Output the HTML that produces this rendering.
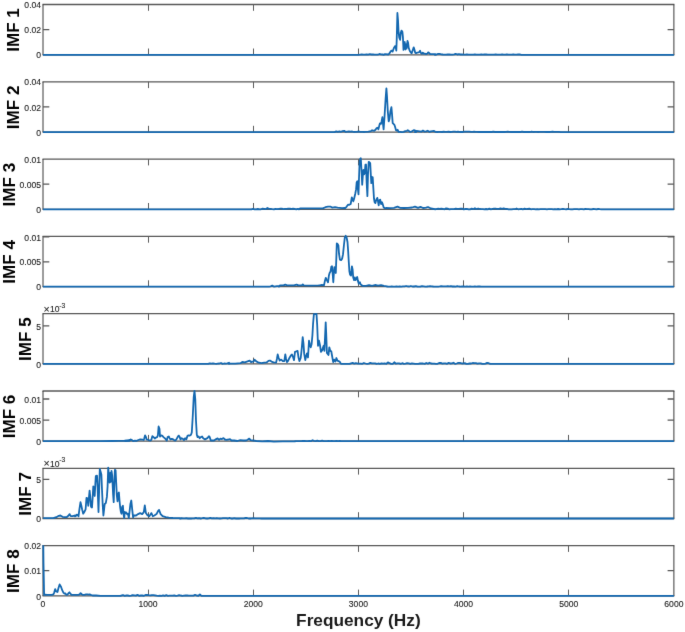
<!DOCTYPE html><html><head><meta charset="utf-8"><style>html,body{margin:0;padding:0;background:#fff;}svg{display:block;will-change:transform;}text{font-family:"Liberation Sans",sans-serif;}.tk{stroke:#1a1a1a;stroke-width:0.1px;paint-order:stroke;}</style></head><body>
<svg width="685" height="632" viewBox="0 0 685 632">
<defs><filter id="soft" x="0" y="0" width="685" height="632" filterUnits="userSpaceOnUse" color-interpolation-filters="sRGB"><feConvolveMatrix order="3" kernelMatrix="0.0052 0.0619 0.0052 0.0619 0.7314 0.0619 0.0052 0.0619 0.0052" edgeMode="duplicate" preserveAlpha="true"/></filter></defs>
<g filter="url(#soft)">
<rect width="685" height="632" fill="#fff"/>
<g><path d="M42.5 4.5 H674.4 M42.5 54.8 H674.4" fill="none" stroke="#585858" stroke-width="1.3"/><path d="M43 4.5 V54.8 M673.9 4.5 V54.8" fill="none" stroke="#383838" stroke-width="1"/><path d="M148.5 4.5 V10.8 M148.5 54.8 V48.5 M253.5 4.5 V10.8 M253.5 54.8 V48.5 M358.5 4.5 V10.8 M358.5 54.8 V48.5 M463.5 4.5 V10.8 M463.5 54.8 V48.5 M568.5 4.5 V10.8 M568.5 54.8 V48.5" fill="none" stroke="#5e5e5e" stroke-width="1"/><path d="M43 29.6 H49.3 M673.9 29.6 H667.6" fill="none" stroke="#585858" stroke-width="1.3"/><path d="M43 54.8 L358.6 54.8 L360.2 54.6 L361.8 54.5 L363.4 54.6 L365 54.6 L366.6 54.3 L368.2 54.6 L369.8 54.2 L371.4 54.5 L373 54.3 L374.6 54.6 L376.2 54.6 L377.8 54.7 L379.4 54 L381 54.3 L382.6 54.5 L384 54.8 L385 54.1 L388.4 54.5 L389.6 53.2 L390.9 51 L391.7 50.7 L392.6 51.6 L393.4 49.3 L394.2 47.4 L395.1 46.1 L395.7 46.9 L396.3 50.7 L396.7 40.2 L397.4 13 L398 20.1 L398.6 32.7 L399.3 37.7 L400.1 39.8 L400.8 32.7 L401.5 30.6 L402.4 31.8 L402.9 36.9 L403.5 49.9 L404.1 42.8 L404.7 41.9 L405.4 49.5 L406 44.4 L406.6 48.6 L407.5 40.9 L408.1 42.8 L408.7 47.8 L409.7 50.7 L411 52.8 L411.7 53.2 L412.7 50.3 L413.7 47.4 L414.4 49.5 L415.2 52.7 L416 53.2 L417.3 52.7 L418.4 52.4 L419.4 52 L420.1 50.7 L420.7 52.8 L421.9 53.7 L422.8 52.7 L423.6 53.5 L424.8 53.7 L426.1 54.1 L427.4 53.5 L428.2 52.4 L429 52.8 L430.3 54.1 L432 54.1 L435 54.1 L436 54.8 L434.9 54.8 L436.5 54.5 L438.1 53.9 L439.7 53.9 L441.3 54.3 L442.9 54.5 L444.5 54.6 L446.1 54.7 L447.7 54.5 L449.3 54.4 L450.9 54.6 L452.5 54.6 L454.1 54.4 L455.7 53.9 L457.3 54.5 L458.9 54.2 L460.5 54.5 L462.1 54.4 L463.7 54.6 L465.3 54.7 L466.9 54.4 L468.5 54.6 L470.1 54.7 L471.7 54.6 L473.3 54.7 L474.9 54.5 L476.5 54.6 L478.1 54.7 L479.7 54.7 L481.3 54.5 L482.9 54.7 L484.5 54.5 L486.1 54.4 L487.7 54.7 L489.3 54.7 L490.9 54.6 L492.5 54.7 L494.1 54.7 L495.7 54.5 L497.3 54.6 L498.9 54.6 L500.5 54.6 L502.1 54.5 L503.7 54.7 L505.3 54.7 L506.9 54.5 L508.5 54.6 L510.1 54.6 L511.7 54.7 L513.3 54.5 L514.9 54.6 L516.5 54.6 L518.1 54.5 L519.7 54.4 L521.3 54.8 L673.9 54.8" fill="none" stroke="#1468b0" stroke-width="1.8" stroke-linejoin="round"/><text class="tk" x="41.1" y="58.4" font-size="8.6" fill="#1a1a1a" text-anchor="end">0</text><text class="tk" x="41.1" y="33.2" font-size="8.6" fill="#1a1a1a" text-anchor="end">0.02</text><text class="tk" x="41.1" y="8.1" font-size="8.6" fill="#1a1a1a" text-anchor="end">0.04</text><text transform="translate(18.9 30) rotate(-90) scale(1.03 1)" font-size="16.6" font-weight="bold" fill="#000" text-anchor="middle">IMF 1</text></g>
<g><path d="M42.5 81.8 H674.4 M42.5 132.1 H674.4" fill="none" stroke="#585858" stroke-width="1.3"/><path d="M43 81.8 V132.1 M673.9 81.8 V132.1" fill="none" stroke="#383838" stroke-width="1"/><path d="M148.5 81.8 V88.1 M148.5 132.1 V125.8 M253.5 81.8 V88.1 M253.5 132.1 V125.8 M358.5 81.8 V88.1 M358.5 132.1 V125.8 M463.5 81.8 V88.1 M463.5 132.1 V125.8 M568.5 81.8 V88.1 M568.5 132.1 V125.8" fill="none" stroke="#5e5e5e" stroke-width="1"/><path d="M43 106.9 H49.3 M673.9 106.9 H667.6" fill="none" stroke="#585858" stroke-width="1.3"/><path d="M43 132.1 L334.6 132.1 L336.2 131.4 L337.8 131.9 L339.4 131.4 L341 131.8 L342.6 131.1 L344.2 130.8 L345.8 131.9 L347.4 131.7 L349 131.5 L350.6 131.6 L352.2 131.5 L353.8 132 L355.4 131.9 L357 131.8 L358.6 131.3 L360.2 131.8 L361.8 131.8 L363.4 131.8 L364 132.1 L365 131.9 L368.4 131.7 L370.9 131.1 L372.1 130.2 L373 130.7 L374.2 130.8 L375.5 129.8 L376.7 128.1 L377.6 127.7 L378.4 129.4 L379.3 125.6 L379.9 123.5 L380.9 123.9 L381.6 121.4 L382.4 117.2 L383 123.9 L383.6 129.4 L384.5 117.2 L385.6 98.8 L386.4 88.3 L387 96.3 L387.8 111.4 L388.7 121.4 L389.5 118.9 L390.4 111.4 L391.4 107.2 L392 113.9 L392.7 123.1 L393.5 123.9 L394.4 124.8 L395.2 127.3 L396 130.2 L396.9 130.7 L397.7 129.8 L398.6 131.9 L400.2 131.9 L401.9 132.2 L403.6 131.9 L405.3 131.1 L406.9 130.8 L407.8 130.2 L409 131.1 L410.3 131.9 L411.6 131.5 L412.8 130.7 L413.7 130.2 L415 130.5 L416 132.1 L414.9 132.1 L416.5 130.9 L418.1 131.1 L419.7 131.4 L421.3 131.7 L422.9 130.6 L424.5 131.6 L426.1 131.4 L427.7 130.7 L429.3 131.9 L430.9 131.3 L432.5 131.1 L434.1 130.9 L435.7 131.9 L437.3 132 L438.9 131.9 L440.5 131.8 L442.1 132 L443.7 131.7 L445.3 131.8 L446.9 131.9 L448.5 131.7 L450.1 132 L451.7 131.8 L453.3 131.7 L454.9 131.6 L456.5 131.9 L458.1 131.6 L459.7 132 L461.3 132 L462.9 132 L464.5 131.6 L466.1 131.7 L467.7 131.6 L469.3 131.6 L470.9 131.8 L472.5 131.8 L474.1 131.7 L475.7 131.8 L477.3 131.9 L478.9 132 L480.5 132 L482.1 132 L483.7 132 L485.3 132 L486.9 132 L488.5 132 L490.1 131.9 L491.7 132 L493.3 131.7 L494.9 132 L496.5 132 L498.1 132 L499.7 132 L501.3 131.9 L502.9 132 L504.5 132 L506.1 131.8 L507.7 131.6 L509.3 131.9 L510.9 132 L512.5 132 L514.1 132 L515.7 132 L517.3 131.9 L518.9 132 L520.5 132 L522.1 131.7 L523.7 132 L525.3 132 L526.9 132 L528.5 132 L530.1 132 L531.7 131.6 L533.3 132 L534.9 131.9 L536.5 131.9 L538.1 132 L539.7 131.9 L541.3 131.9 L542.9 131.8 L544.5 131.8 L546.1 132 L547.7 132 L549.3 132 L550.9 131.9 L552.5 131.6 L554.1 131.9 L555.7 131.8 L557.3 131.9 L558.9 131.8 L560.5 132.1 L673.9 132.1" fill="none" stroke="#1468b0" stroke-width="1.8" stroke-linejoin="round"/><text class="tk" x="41.1" y="135.7" font-size="8.6" fill="#1a1a1a" text-anchor="end">0</text><text class="tk" x="41.1" y="110.5" font-size="8.6" fill="#1a1a1a" text-anchor="end">0.02</text><text class="tk" x="41.1" y="85.4" font-size="8.6" fill="#1a1a1a" text-anchor="end">0.04</text><text transform="translate(18.9 107.3) rotate(-90) scale(1.03 1)" font-size="16.6" font-weight="bold" fill="#000" text-anchor="middle">IMF 2</text></g>
<g><path d="M42.5 159.1 H674.4 M42.5 209.3 H674.4" fill="none" stroke="#585858" stroke-width="1.3"/><path d="M43 159.1 V209.3 M673.9 159.1 V209.3" fill="none" stroke="#383838" stroke-width="1"/><path d="M148.5 159.1 V165.4 M148.5 209.3 V203 M253.5 159.1 V165.4 M253.5 209.3 V203 M358.5 159.1 V165.4 M358.5 209.3 V203 M463.5 159.1 V165.4 M463.5 209.3 V203 M568.5 159.1 V165.4 M568.5 209.3 V203" fill="none" stroke="#5e5e5e" stroke-width="1"/><path d="M43 184.2 H49.3 M673.9 184.2 H667.6" fill="none" stroke="#585858" stroke-width="1.3"/><path d="M43 209.3 L249.8 209.3 L251.4 209.3 L253 208.8 L254.6 209.3 L256.2 209.3 L257.8 209 L259.4 209.3 L261 209.3 L262.6 208.6 L264.2 208.8 L265.8 209.2 L267.4 208 L269 208.8 L270.6 208.9 L272.2 209.2 L273.8 209.3 L275.4 209 L277 209.2 L278.6 209 L280.2 208.6 L281.8 208.6 L283.4 209.1 L285 208.9 L286.6 208.9 L288.2 208.6 L289.8 208.7 L291.4 209 L293 208.6 L294.6 208.9 L296.2 209.3 L297.8 208.8 L299 209.3 L300 208.4 L322.8 208.4 L325.4 207.2 L328 206.7 L330.7 206.7 L332.4 207.6 L335 207.2 L337.7 207.6 L342 208.1 L344.7 207.9 L345 208.3 L346.7 206.6 L348 204.7 L349.3 204.8 L350.7 204 L351.8 197.4 L352.7 199.6 L353.3 201.3 L354.1 198.7 L355.3 193.5 L356.1 189.2 L356.7 182.2 L357.3 181.3 L358 190 L358.5 194.4 L358.9 181.3 L359.6 162.2 L360.2 158.7 L360.8 158.3 L361.5 170 L362.2 184.8 L362.8 176.1 L363.4 170 L364.1 174.4 L364.8 172.7 L365.4 164.8 L366 164.4 L366.7 183.1 L367.4 196.1 L368 174.4 L368.7 161.8 L369.3 162.2 L370.2 163.1 L370.8 174.4 L371.3 183.1 L372 177 L372.7 177.4 L373.3 187.4 L374 198.7 L374.6 202.2 L375.4 203.1 L376.3 199.6 L377.3 197.9 L378 201.3 L378.7 205.3 L379.3 200.5 L380.2 199.6 L381.1 204 L382 202.2 L382.8 204.4 L383.7 207.4 L385 208.3 L386 208 L390 208.2 L394 207.8 L397.5 206.6 L400 207.8 L404 208 L408 207.8 L412 207.5 L415 206.6 L418 207.8 L420.5 206.8 L423 208 L426 207.6 L428 207 L431 208.5 L435 209.2 L436 209.3 L434.9 209.3 L436.5 209 L438.1 208.6 L439.7 208.9 L441.3 208.6 L442.9 208.9 L444.5 209.3 L446.1 208.4 L447.7 208.7 L449.3 209.3 L450.9 209.1 L452.5 209.2 L454.1 209.2 L455.7 208.6 L457.3 208.9 L458.9 208.8 L460.5 208.6 L462.1 208.7 L463.7 209.3 L465.3 209 L466.9 208.9 L468.5 209.3 L470.1 209.3 L471.7 208.7 L473.3 209.2 L474.9 208.2 L476.5 209.2 L478.1 208.5 L479.7 209 L481.3 209.2 L482.9 209.1 L484.5 209.3 L486.1 209 L487.7 209.3 L489.3 208.7 L490.9 209.3 L492.5 208.9 L494.1 208.6 L495.7 208.6 L497.3 209 L498.9 208.9 L500.5 208.4 L502.1 208.8 L503.7 208.4 L505.3 208.8 L506.9 208.8 L508.5 209.3 L510.1 209.3 L511.7 209.3 L513.3 209.1 L514.9 209.2 L516.5 208.5 L518.1 209.3 L519.7 209.1 L521.3 208.9 L522.9 209.3 L524.5 208.7 L526.1 209.1 L527.7 208.8 L529.3 208.6 L530.9 209.3 L532.5 209.2 L534.1 209.2 L535.7 209.3 L537.3 209.2 L538.9 209.3 L540.5 209.2 L542.1 209.1 L543.7 209.2 L545.3 209.2 L546.9 209.3 L548.5 209.2 L550.1 209.2 L551.7 209.1 L553.3 209.3 L554.9 209.2 L556.5 209.3 L558.1 209 L559.7 209.3 L561.3 209.2 L562.9 209 L564.5 209.2 L566.1 209.3 L567.7 209 L569.3 209.2 L570.9 209.3 L572.5 209.3 L574.1 209.2 L575.7 209.2 L577.3 209.2 L578.9 209.3 L580.5 209.1 L582.1 209.2 L583.7 209.3 L585.3 209 L586.9 209.2 L588.5 209.1 L590.1 209.3 L591.7 209.3 L593.3 209 L594.9 209.1 L596.5 209.3 L598.1 209 L599.7 209.2 L601.3 209.3 L673.9 209.3" fill="none" stroke="#1468b0" stroke-width="1.8" stroke-linejoin="round"/><text class="tk" x="41.1" y="212.9" font-size="8.6" fill="#1a1a1a" text-anchor="end">0</text><text class="tk" x="41.1" y="187.8" font-size="8.6" fill="#1a1a1a" text-anchor="end">0.005</text><text class="tk" x="41.1" y="162.7" font-size="8.6" fill="#1a1a1a" text-anchor="end">0.01</text><text transform="translate(14.8 184.6) rotate(-90) scale(1.03 1)" font-size="16.6" font-weight="bold" fill="#000" text-anchor="middle">IMF 3</text></g>
<g><path d="M42.5 236.4 H674.4 M42.5 286.6 H674.4" fill="none" stroke="#585858" stroke-width="1.3"/><path d="M43 236.4 V286.6 M673.9 236.4 V286.6" fill="none" stroke="#383838" stroke-width="1"/><path d="M148.5 236.4 V242.7 M148.5 286.6 V280.3 M253.5 236.4 V242.7 M253.5 286.6 V280.3 M358.5 236.4 V242.7 M358.5 286.6 V280.3 M463.5 236.4 V242.7 M463.5 286.6 V280.3 M568.5 236.4 V242.7 M568.5 286.6 V280.3" fill="none" stroke="#5e5e5e" stroke-width="1"/><path d="M43 261.8 H49.3 M673.9 261.8 H667.6 M43 236.9 H49.3 M673.9 236.9 H667.6" fill="none" stroke="#585858" stroke-width="1.3"/><path d="M43 286.6 L269 286.6 L270.6 286.3 L272.2 285.6 L273.8 286.6 L275.4 286.3 L277 286.1 L278.6 286.1 L279 286.6 L280 285.4 L283.5 285.4 L285.3 284.6 L287 285.4 L294 285.4 L296.6 284.6 L298.4 285.4 L301.9 285.4 L302.8 284.4 L303.7 285.4 L311.5 285.6 L318.5 285.4 L319.9 285.3 L320 285.4 L321.8 284.9 L324 285.4 L324.9 280.9 L325.8 277.8 L326.6 279.6 L328 282.3 L328.9 275.6 L329.6 273 L330.5 271.6 L331.3 266.8 L332 266.3 L332.6 273 L333.3 282.3 L333.9 273 L334.4 267.2 L335.1 271.2 L335.8 273 L336.4 256.1 L336.8 243.3 L337.7 244.2 L338.4 245.5 L339 253.5 L339.9 259.7 L341.1 260.1 L342.1 258.8 L343 254.4 L343.9 245.5 L344.8 237.5 L345.7 235.8 L346.6 237.5 L347.5 242 L348.2 251.7 L348.8 262.3 L349.4 271.2 L350.1 274.7 L351 275.6 L351.9 266.3 L352.6 269.4 L353.2 277.4 L354.1 280.1 L354.8 277.4 L355.6 280.1 L356.3 278.7 L357.2 277 L357.9 280.9 L358.8 283.6 L359.9 282.3 L360.7 284.5 L362.5 285.8 L365 285.8 L366 285.8 L369 285.2 L372 285.9 L375 285 L378 285.7 L381 285.1 L384 285.8 L387 286.4 L388 286.6 L386.9 286.6 L388.5 286.6 L390.1 286.6 L391.7 286.5 L393.3 286.6 L394.9 286.6 L396.5 286.4 L398.1 286.6 L399.7 286.4 L401.3 286.6 L402.9 286.4 L404.5 286.4 L406.1 286 L407.7 286.4 L409.3 286.5 L410.9 286 L412.5 286.5 L414.1 286.5 L415.7 286.2 L417.3 286.5 L418.9 286.6 L420.5 286.5 L422.1 286.2 L423.7 286.4 L425.3 286.6 L426.9 286.5 L428.5 286.3 L430.1 286.2 L431.7 286.3 L433.3 286.5 L434.9 286.6 L436.5 286.6 L438.1 286.6 L439.7 286.4 L441.3 286.1 L442.9 286.4 L444.5 286.4 L446.1 286.3 L447.7 286.2 L449.3 286.4 L450.9 286.2 L452.5 286.5 L454.1 286.4 L455.7 286.6 L457.3 286.1 L458.9 286.5 L460.5 286.6 L462.1 286.5 L463.7 286.5 L465.3 286.6 L466.9 286.5 L468.5 286.6 L470.1 286.5 L471.7 286.6 L473.3 286.6 L474.9 286.5 L476.5 286.6 L478.1 286.5 L479.7 286.5 L481.3 286.6 L673.9 286.6" fill="none" stroke="#1468b0" stroke-width="1.8" stroke-linejoin="round"/><text class="tk" x="41.1" y="290.2" font-size="8.6" fill="#1a1a1a" text-anchor="end">0</text><text class="tk" x="41.1" y="265.4" font-size="8.6" fill="#1a1a1a" text-anchor="end">0.005</text><text class="tk" x="41.1" y="240.5" font-size="8.6" fill="#1a1a1a" text-anchor="end">0.01</text><text transform="translate(14.8 261.9) rotate(-90) scale(1.03 1)" font-size="16.6" font-weight="bold" fill="#000" text-anchor="middle">IMF 4</text></g>
<g><path d="M42.5 313.7 H674.4 M42.5 363.9 H674.4" fill="none" stroke="#585858" stroke-width="1.3"/><path d="M43 313.7 V363.9 M673.9 313.7 V363.9" fill="none" stroke="#383838" stroke-width="1"/><path d="M148.5 313.7 V320 M148.5 363.9 V357.6 M253.5 313.7 V320 M253.5 363.9 V357.6 M358.5 313.7 V320 M358.5 363.9 V357.6 M463.5 313.7 V320 M463.5 363.9 V357.6 M568.5 313.7 V320 M568.5 363.9 V357.6" fill="none" stroke="#5e5e5e" stroke-width="1"/><path d="M43 325.9 H49.3 M673.9 325.9 H667.6" fill="none" stroke="#585858" stroke-width="1.3"/><path d="M43 363.9 L198.6 363.9 L200.2 363.9 L201.8 363.9 L203.4 363.9 L205 363.9 L206.6 363.9 L208.2 363.9 L209.8 363.3 L211.4 363.7 L213 363.4 L214.6 363.7 L216.2 363.9 L217.8 363.7 L219.4 363.5 L221 363 L222.6 363.9 L224.2 363.5 L225.8 363.6 L227.4 363.4 L229 362.7 L229 363.9 L230 363.7 L235.3 363.7 L240.5 363.2 L242.3 362 L244.9 362.3 L247.5 361.4 L249.6 360.6 L251 362 L253.7 361.4 L254.5 359.7 L256.3 361.4 L258.9 362.7 L261.5 363.2 L264.2 362.7 L266.8 362.3 L268.5 360.9 L269.6 360.6 L270 360.6 L271.5 361.6 L273.6 362.3 L276.1 362.6 L276.9 359 L277.7 354.5 L278.7 358 L279.7 360.6 L281.2 359.6 L282.8 361.1 L284.3 361.1 L285.3 354.5 L286.1 359 L286.9 362.1 L287.9 361.1 L289.4 358 L290.9 355.5 L292 354.5 L293 357 L294 360.1 L295 351.9 L296.4 351.4 L297.6 350.9 L298.4 357 L299.4 361.1 L300.7 358 L301.7 348.8 L302.7 337.1 L303.5 343.7 L304.2 353.9 L305.3 360.1 L306.3 355.5 L307 353.4 L308 357.5 L309 340.7 L309.9 344.7 L310.7 347.3 L311.6 344.2 L312.4 335.5 L313.1 323.3 L313.9 314.1 L315 314.1 L316.5 313.9 L317.2 325.3 L318 345.8 L319 340.7 L320.1 345.8 L320.9 351.9 L322.1 350.4 L322.9 347.8 L323.6 345.8 L324.4 350.9 L325.2 333.5 L325.7 322.3 L326.2 333.5 L326.9 352.9 L327.7 353.9 L328.5 355 L329.3 347.3 L330.3 350.9 L331.3 351.4 L332.1 356 L333.2 362.1 L334.2 359.6 L335.4 361.6 L336.4 358 L337.4 360.6 L338.5 361.1 L340 362.1 L341 363.9 L349.5 363.9 L351.1 363.3 L352.7 362.9 L354.3 363.7 L355.9 363.1 L357.5 363.5 L359.1 363.6 L360.7 363.6 L362.3 363.8 L363.9 363 L365.5 363.5 L367.1 363.9 L368.7 363.6 L370.3 362.9 L371.9 363.3 L373.5 363.3 L375.1 363.3 L376.7 363.9 L378.3 363.5 L379.9 363.8 L381.5 363.3 L383.1 363.6 L384.7 363.4 L386.3 363.8 L387.9 362.3 L389.5 363.2 L391.1 363.8 L392.7 363.9 L394.3 362.3 L395.9 363.7 L397.5 363.4 L399.1 363.3 L400.7 363.9 L402.3 363.2 L403.9 363.8 L405.5 363.7 L407.1 363.2 L408.7 363.4 L410.3 363.9 L411.9 363.4 L413.5 363.6 L415.1 363.8 L416.7 363.9 L418.3 363.8 L419.9 363.5 L421.5 363.3 L423.1 363.5 L424.7 363.9 L426.3 363 L427.9 363.7 L429.5 362.7 L431.1 363.5 L432.7 363.6 L434.3 363.6 L435.9 363.9 L437.5 363.8 L439.1 363 L440.7 362.8 L442.3 363.6 L443.9 363.3 L445.5 363.4 L447.1 363.8 L448.7 362.8 L450.3 363.5 L451.9 363.4 L453.5 362.7 L455.1 363.9 L456.7 363.5 L458.3 362.8 L459.9 362.8 L461.5 363.3 L463.1 363.5 L464.7 363.1 L466.3 363.9 L467.9 363.8 L469.5 363.5 L471.1 363.5 L472.7 363 L474.3 363.2 L475.9 363.1 L477.5 363.6 L479.1 363.3 L480.7 363.3 L482.3 363.9 L483.9 363.9 L485.5 363.6 L487.1 362.9 L488.7 363.2 L490.3 363.9 L673.9 363.9" fill="none" stroke="#1468b0" stroke-width="1.8" stroke-linejoin="round"/><text class="tk" x="41.1" y="367.6" font-size="8.6" fill="#1a1a1a" text-anchor="end">0</text><text class="tk" x="41.1" y="329.5" font-size="8.6" fill="#1a1a1a" text-anchor="end">5</text><text class="tk" x="43.6" y="312.7" font-size="10.5" fill="#1a1a1a">&#215;</text><text class="tk" x="50.0" y="312.1" font-size="8.6" fill="#1a1a1a">10</text><text class="tk" x="59.2" y="307.7" font-size="6.6" fill="#1a1a1a">-3</text><text transform="translate(31 339.2) rotate(-90) scale(1.03 1)" font-size="16.6" font-weight="bold" fill="#000" text-anchor="middle">IMF 5</text></g>
<g><path d="M42.5 391 H674.4 M42.5 441.2 H674.4" fill="none" stroke="#585858" stroke-width="1.3"/><path d="M43 391 V441.2 M673.9 391 V441.2" fill="none" stroke="#383838" stroke-width="1"/><path d="M148.5 391 V397.3 M148.5 441.2 V434.9 M253.5 391 V397.3 M253.5 441.2 V434.9 M358.5 391 V397.3 M358.5 441.2 V434.9 M463.5 391 V397.3 M463.5 441.2 V434.9 M568.5 391 V397.3 M568.5 441.2 V434.9" fill="none" stroke="#5e5e5e" stroke-width="1"/><path d="M43 420.1 H49.3 M673.9 420.1 H667.6 M43 399 H49.3 M673.9 399 H667.6" fill="none" stroke="#585858" stroke-width="1.3"/><path d="M43 441.2 L99 441.2 L100 441.2 L112.3 441 L124.5 440.6 L129.6 440.2 L125 441.1 L129.7 440.8 L130.8 439.4 L131.8 440 L133.2 441.1 L134.9 440.6 L136.7 440.8 L138.4 440 L140.2 439.4 L142.5 439.7 L143.7 440 L144.3 438.2 L145.1 435.3 L146 437.1 L146.6 439.4 L148.4 440 L150.1 440.6 L151.3 440 L152.4 436.1 L153.6 437.1 L154.8 438.5 L155.9 437.6 L157.1 437.1 L157.9 435.3 L158.6 426.5 L159.5 428.9 L160 436.5 L161.2 435.3 L162.4 435.9 L163.5 437.1 L164.7 438.2 L165.9 439.4 L166.8 440.6 L167.6 437.1 L168.8 436.5 L169.6 438.2 L170.5 439.4 L171.7 438.8 L172.9 439.2 L174.1 440 L175.2 440.6 L176.4 439.4 L177.6 437.1 L178.7 435.6 L179.7 437.1 L180.5 439.4 L181.6 438.2 L182.8 438.8 L184 440 L185.1 438.2 L186.3 439.4 L187.5 435.9 L188.6 435.3 L189.8 435.6 L191 434.7 L191.8 432.4 L192.7 417.2 L193.7 397.3 L194.5 390.9 L195.3 399.7 L196 420.7 L196.8 434.7 L197.6 437.1 L198.6 436.5 L199.7 438.2 L200.9 437.1 L202.1 436.5 L203.2 438.2 L205 439.4 L207.4 438.1 L208.9 436.2 L209.6 436.9 L210.8 440.5 L214 440.5 L216.2 439.1 L217.6 438.4 L219.1 439.8 L220.5 438.6 L222 439.1 L223.5 438.1 L224.9 439.5 L226.4 439.8 L228.6 439.5 L230 439.1 L231.5 440.5 L234.4 440.5 L237.3 441 L240.3 440.1 L243.2 440.5 L246.1 440.5 L247.6 439.8 L249.3 438.6 L250.5 440.1 L253.4 440.5 L256.3 441 L262.2 441.3 L268 441 L273.8 441.6 L282.6 441.3 L295 441.3 L296 441.2 L294.9 441.2 L296.5 441.2 L298.1 441.2 L299.7 441.1 L301.3 441.2 L302.9 440.9 L304.5 441 L306.1 441.1 L307.7 441.2 L309.3 441 L310.9 441.2 L312.5 440.2 L314.1 440.9 L315.7 441.2 L317.3 440.6 L318.9 441.2 L320.5 441.2 L322.1 440.7 L323.7 441.1 L325.3 441.1 L326.9 441.1 L328.5 441 L330.1 441.2 L331.7 440.9 L333.3 441.2 L334.9 441.2 L336.5 441 L338.1 441.1 L339.7 441 L341.3 441.2 L673.9 441.2" fill="none" stroke="#1468b0" stroke-width="1.8" stroke-linejoin="round"/><text class="tk" x="41.1" y="444.9" font-size="8.6" fill="#1a1a1a" text-anchor="end">0</text><text class="tk" x="41.1" y="423.7" font-size="8.6" fill="#1a1a1a" text-anchor="end">0.005</text><text class="tk" x="41.1" y="402.6" font-size="8.6" fill="#1a1a1a" text-anchor="end">0.01</text><text transform="translate(14.8 416.5) rotate(-90) scale(1.03 1)" font-size="16.6" font-weight="bold" fill="#000" text-anchor="middle">IMF 6</text></g>
<g><path d="M42.5 468.3 H674.4 M42.5 518.5 H674.4" fill="none" stroke="#585858" stroke-width="1.3"/><path d="M43 468.3 V518.5 M673.9 468.3 V518.5" fill="none" stroke="#383838" stroke-width="1"/><path d="M148.5 468.3 V474.6 M148.5 518.5 V512.2 M253.5 468.3 V474.6 M253.5 518.5 V512.2 M358.5 468.3 V474.6 M358.5 518.5 V512.2 M463.5 468.3 V474.6 M463.5 518.5 V512.2 M568.5 468.3 V474.6 M568.5 518.5 V512.2" fill="none" stroke="#5e5e5e" stroke-width="1"/><path d="M43 479.3 H49.3 M673.9 479.3 H667.6" fill="none" stroke="#585858" stroke-width="1.3"/><path d="M43.1 518.2 L46.1 518.2 L53.3 518.2 L56.3 517.2 L58.8 515.8 L60.4 515.5 L62.5 516.8 L64.5 517.2 L66.6 517.2 L68.6 515.5 L69.6 514.1 L70.7 516.2 L72.7 516.2 L74.7 515.5 L76 516 L75 516.4 L75.9 515.5 L76.8 514.6 L77.7 515.1 L78.5 516.4 L79.4 509.3 L80.5 502.2 L81.2 504.9 L82.1 509.3 L83.2 513.7 L84.3 512 L85.6 509.3 L86.5 497.8 L87.4 498.2 L88.3 505.8 L89 496.9 L89.6 490.7 L90.2 496 L91 506.7 L92 507.5 L92.7 496.9 L93.3 486.3 L94.1 488 L94.7 496 L95.4 482.7 L95.8 476.1 L97 475.6 L97.6 487.2 L98.5 512 L99.1 491.6 L99.8 469 L100.7 472.1 L101.4 474.7 L102 489.8 L102.7 504.9 L103.4 515.5 L104.1 509.3 L104.7 504 L105.8 503.1 L106.9 496.9 L107.6 486.3 L108.2 467.7 L108.9 474.7 L109.6 482.7 L110.3 473 L110.9 481.8 L111.5 470.8 L112.2 475.6 L113.1 494.2 L113.7 502.2 L114.3 482.7 L114.9 469.9 L115.6 470.3 L116.2 482.7 L116.8 495.1 L117.5 501.3 L118.3 493.4 L118.9 492.5 L119.5 500.5 L120.2 507.5 L120.9 512 L121.5 513.7 L122.2 506.7 L122.9 505.8 L123.6 514.6 L124.2 518.2 L124.8 512 L125.5 513.3 L126.2 512.4 L127.1 514.2 L128 513.7 L128.8 518.2 L129.5 512 L130.4 504 L131.3 500.5 L132.2 509.3 L133.1 517.3 L133.9 515.5 L135 515.5 L136.1 515.5 L138.1 514.1 L140.1 513.1 L142.2 514.1 L143.8 512.1 L144.8 505.3 L145.9 513.1 L147.3 515.1 L149.3 516.2 L151.4 513.1 L152.8 516.2 L154.4 515.5 L156.5 514.1 L158.1 511 L159.1 510 L160.6 514.1 L162.6 516.2 L165.7 517.2 L168.8 517.6 L172.8 518 L180 518.2 L181 518.5 L179.9 518.5 L181.5 518.1 L183.1 518.4 L184.7 518.3 L186.3 518.2 L187.9 518.5 L189.5 518.4 L191.1 518.5 L192.7 518.4 L194.3 518.4 L195.9 517.8 L197.5 518.4 L199.1 518.2 L200.7 518.5 L202.3 518.2 L203.9 517.8 L205.5 518.3 L207.1 518.5 L208.7 518.4 L210.3 517.8 L211.9 518.4 L213.5 518.1 L215.1 518.3 L216.7 518.2 L218.3 518.4 L219.9 518.5 L221.5 518.4 L223.1 518.2 L224.7 518.2 L226.3 518.2 L227.9 518.5 L229.5 517.9 L231.1 518.5 L232.7 518.5 L234.3 518.2 L235.9 518.5 L237.5 518.3 L239.1 518.5 L240.7 518.4 L242.3 518.3 L243.9 518.3 L245.5 518 L247.1 518 L248.7 518.5 L250.3 518.5 L251.9 518.4 L253.5 518.1 L255.1 518.3 L256.7 518.3 L258.3 518.4 L259.9 518.3 L261.5 518.5 L673.9 518.5" fill="none" stroke="#1468b0" stroke-width="1.8" stroke-linejoin="round"/><text class="tk" x="41.1" y="522.1" font-size="8.6" fill="#1a1a1a" text-anchor="end">0</text><text class="tk" x="41.1" y="482.9" font-size="8.6" fill="#1a1a1a" text-anchor="end">5</text><text class="tk" x="43.6" y="467.3" font-size="10.5" fill="#1a1a1a">&#215;</text><text class="tk" x="50.0" y="466.7" font-size="8.6" fill="#1a1a1a">10</text><text class="tk" x="59.2" y="462.3" font-size="6.6" fill="#1a1a1a">-3</text><text transform="translate(31 493.8) rotate(-90) scale(1.03 1)" font-size="16.6" font-weight="bold" fill="#000" text-anchor="middle">IMF 7</text></g>
<g><path d="M42.5 545.6 H674.4 M42.5 595.9 H674.4" fill="none" stroke="#585858" stroke-width="1.3"/><path d="M43 545.6 V595.9 M673.9 545.6 V595.9" fill="none" stroke="#383838" stroke-width="1"/><path d="M148.5 545.6 V551.9 M148.5 595.9 V589.6 M253.5 545.6 V551.9 M253.5 595.9 V589.6 M358.5 545.6 V551.9 M358.5 595.9 V589.6 M463.5 545.6 V551.9 M463.5 595.9 V589.6 M568.5 545.6 V551.9 M568.5 595.9 V589.6" fill="none" stroke="#5e5e5e" stroke-width="1"/><path d="M43 570.7 H49.3 M673.9 570.7 H667.6" fill="none" stroke="#585858" stroke-width="1.3"/><path d="M43.3 545.3 L43.5 563.4 L44.1 594.9 L45.3 594.7 L47 594.9 L49.3 594.9 L51.7 594.9 L53.4 594.3 L54.2 592.6 L55.2 589.1 L56.1 591.4 L57.5 592 L58.5 587.9 L59.6 584.4 L61 586.7 L62.2 590.2 L63.4 592.6 L64.5 593.7 L65.5 593.5 L66.3 594.9 L67.4 594.7 L68.6 593.1 L69.4 592.3 L70.4 593.7 L71.5 594.9 L73.9 594.9 L76.2 594.9 L78.5 594.9 L79.7 594.3 L80.6 593.1 L81.5 594 L82.6 594.9 L84.4 594.9 L86.1 594.3 L87.3 594.3 L88.5 594.7 L89.6 594.3 L90.8 594.9 L92.6 595.5 L96.1 595.5 L100.7 595.8 L105.4 595.8 L110.1 595.8 L114.7 595.8 L120 595.8 L121 595.9 L119.9 595.9 L121.5 595.5 L123.1 595.2 L124.7 595.8 L126.3 595.5 L127.9 595.5 L129.5 595.8 L131.1 595.7 L132.7 595.1 L134.3 595.3 L135.9 595.6 L137.5 594.8 L139.1 595.8 L140.7 595.5 L142.3 595.5 L143.9 595.8 L145.5 595 L147.1 595 L148.7 595.2 L150.3 595.3 L151.9 595.1 L153.5 595.1 L155.1 595.3 L156.7 595.6 L158.3 595.8 L159.9 595.7 L161.5 595.8 L163.1 595.3 L164.7 595.8 L166.3 595.2 L167.9 595.8 L169.5 595.7 L171.1 595.6 L172.7 595.7 L174.3 595.4 L175.9 595.8 L177.5 595.6 L179.1 595.1 L180.7 595.5 L182.3 595.8 L183.9 595.6 L185.5 595.5 L187.1 595.4 L188.7 595.7 L190.3 595.7 L191.9 595.6 L193.5 595.6 L195.1 594.8 L196.7 595.5 L198.3 595.8 L199.9 594.5 L201.5 595.9 L673.9 595.9" fill="none" stroke="#1468b0" stroke-width="1.8" stroke-linejoin="round"/><text class="tk" x="41.1" y="599.5" font-size="8.6" fill="#1a1a1a" text-anchor="end">0</text><text class="tk" x="41.1" y="574.3" font-size="8.6" fill="#1a1a1a" text-anchor="end">0.01</text><text class="tk" x="41.1" y="549.2" font-size="8.6" fill="#1a1a1a" text-anchor="end">0.02</text><text transform="translate(18.9 571.1) rotate(-90) scale(1.03 1)" font-size="16.6" font-weight="bold" fill="#000" text-anchor="middle">IMF 8</text></g>
<text class="tk" x="43" y="607.1" font-size="8.6" fill="#1a1a1a" text-anchor="middle">0</text>
<text class="tk" x="148.1" y="607.1" font-size="8.6" fill="#1a1a1a" text-anchor="middle">1000</text>
<text class="tk" x="253.3" y="607.1" font-size="8.6" fill="#1a1a1a" text-anchor="middle">2000</text>
<text class="tk" x="358.4" y="607.1" font-size="8.6" fill="#1a1a1a" text-anchor="middle">3000</text>
<text class="tk" x="463.6" y="607.1" font-size="8.6" fill="#1a1a1a" text-anchor="middle">4000</text>
<text class="tk" x="568.7" y="607.1" font-size="8.6" fill="#1a1a1a" text-anchor="middle">5000</text>
<text class="tk" x="673.9" y="607.1" font-size="8.6" fill="#1a1a1a" text-anchor="middle">6000</text>
<text x="358.4" y="626.2" font-size="17.25" font-weight="bold" fill="#1a1a1a" text-anchor="middle">Frequency (Hz)</text>
</g>
</svg></body></html>
